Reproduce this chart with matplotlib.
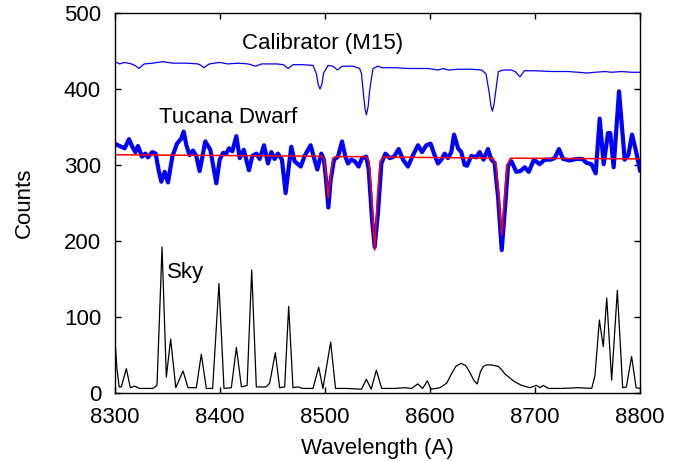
import numpy as np
import matplotlib
matplotlib.use("Agg")
import matplotlib.pyplot as plt

plt.rcParams['font.family'] = ['Liberation Sans', 'DejaVu Sans']

# Calibrator spectrum (M15)
cal_wave = [8300, 8304.4, 8309, 8315.6, 8319, 8322.9, 8326, 8328, 8336, 8345.6, 8355, 8368,
            8379, 8382, 8384.8, 8387.5, 8390, 8399.6, 8407.6, 8417, 8426.7, 8434, 8439.6,
            8454, 8460.3, 8465, 8469.5, 8479, 8488.6, 8491.8, 8493.5, 8495.2, 8497, 8498.7,
            8502.9, 8507.6, 8511.8, 8516.5, 8526.7, 8533, 8534.8, 8536.2, 8538, 8539.4,
            8541, 8542.6, 8545.7, 8550.5, 8554, 8566.7, 8579.4, 8589, 8598, 8607.9, 8612.7,
            8617.5, 8627, 8639.7, 8649.2, 8653.3, 8656.5, 8658, 8659.4, 8661, 8662.3,
            8665.1, 8669.9, 8677.1, 8681, 8685.7, 8689.8, 8700, 8715.9, 8731.7, 8741.3,
            8749.2, 8757, 8766.7, 8773, 8782.5, 8792, 8800]
cal_counts = [436, 433, 435, 433, 431, 427, 431, 433, 434, 436, 434, 434,
              433, 431, 428, 431, 433, 435, 433, 434, 433, 430, 433,
              433, 432, 427, 432, 432, 431, 420, 406, 400, 406, 421,
              431, 430, 425, 430, 430, 427, 420, 399, 375, 366,
              376, 399, 427, 430, 428, 428, 427, 427, 427, 425, 427,
              425, 426, 426, 425, 420, 394, 378, 371, 380, 394,
              423, 425, 425, 423, 416, 424, 424, 423, 423, 422,
              421, 422, 423, 422, 423, 422, 422]

# Tucana Dwarf spectrum
tuc_wave = [8300, 8304.4, 8309.2, 8313.3, 8316.5, 8319.4, 8321.9, 8325.7, 8328.9, 8331.4,
            8335.5, 8338.7, 8341.6, 8344.1, 8347.3, 8350.5, 8354.6, 8359, 8363.2, 8365.4,
            8368, 8371, 8374.3, 8377.4, 8380.6, 8383.8, 8386, 8390.8, 8396.5, 8399.7,
            8402.9, 8406, 8408.6, 8411.7, 8415.6, 8418.8, 8422.6, 8427.6, 8430.8, 8434.6,
            8437.8, 8441.9, 8445.7, 8448.9, 8452, 8455.2, 8459, 8462.5, 8465.7, 8467.9,
            8471, 8476.9, 8480.6, 8486.3, 8490, 8492.7, 8496.5, 8499, 8501, 8503.2,
            8505.4, 8508.6, 8512.4, 8516.2, 8519.4, 8521.9, 8525, 8528.3, 8532, 8535.2,
            8539.3, 8541.6, 8544.8, 8547.3, 8550.5, 8553.7, 8557.5, 8561.6, 8565.7, 8570.2,
            8574.3, 8579, 8583.8, 8588.6, 8592.4, 8596.5, 8600.6, 8603.8, 8607.6, 8610.8,
            8614, 8617.1, 8620.3, 8622.9, 8626.7, 8629.8, 8633, 8635.2, 8639.4, 8644,
            8647.3, 8651, 8655.2, 8658.4, 8661.5, 8664.8, 8668.3, 8671.8, 8674.3, 8677.5,
            8682.2, 8686, 8690.2, 8694, 8699, 8704.4, 8709.2, 8714.6, 8718.7, 8722.8,
            8726.7, 8733, 8739.4, 8745, 8748.9, 8753.7, 8757.8, 8761.6, 8765.4, 8769.5,
            8771.7, 8774.9, 8780, 8785.4, 8788.9, 8792.4, 8795.9, 8800]
tuc_counts = [328, 325, 322, 334, 324, 317, 325, 311, 315, 310,
              317, 315, 293, 278, 291, 277, 311, 328, 335, 344,
              326, 313, 319, 312, 292, 315, 331, 320, 276, 307,
              316, 315, 322, 318, 338, 309, 320, 293, 312, 315,
              308, 326, 302, 317, 308, 315, 307, 263, 300, 324,
              305, 298, 312, 326, 307, 294, 315, 307, 280, 244,
              280, 307, 311, 331, 311, 302, 307, 305, 298, 309,
              311, 294, 228, 192, 238, 302, 315, 309, 311, 321,
              307, 298, 313, 326, 317, 326, 328, 315, 302, 307,
              315, 309, 317, 340, 322, 317, 300, 299, 312, 310,
              317, 307, 321, 307, 303, 258, 188, 250, 299, 305,
              291, 292, 297, 291, 307, 301, 307, 307, 309, 321,
              308, 306, 308, 308, 303, 301, 289, 361, 301, 342,
              342, 297, 397, 307, 313, 340, 320, 293]

# Fitted Ca II triplet model
fit_wave = [8300, 8496, 8499, 8501, 8503.2, 8505.5, 8507.5, 8510,
            8539, 8542, 8544.5, 8547.3, 8550, 8552.5, 8555.5,
            8660, 8663, 8665.5, 8668.3, 8671, 8673.5, 8676.5, 8800]
fit_counts = [313.5, 311.5, 309, 290, 257, 290, 309, 311,
              311, 305, 260, 188, 260, 305, 310.5,
              309, 300, 260, 208, 260, 300, 309, 308]

# Sky spectrum
sky_wave = [8300, 8302, 8304, 8306, 8310.8, 8314.6, 8318.7, 8323.5, 8336, 8340,
            8344.8, 8348.9, 8353, 8357.9, 8364.8, 8369.5, 8377.5, 8382.2, 8387, 8393,
            8399, 8403.8, 8410.8, 8415.6, 8420.4, 8425.8, 8430.2, 8434.6, 8444, 8447.3,
            8452.7, 8456.8, 8461.6, 8465.4, 8469.5, 8474, 8479, 8488.6, 8494, 8498,
            8505.4, 8510, 8520.4, 8534.7, 8539.4, 8544, 8548.9, 8554, 8566.7, 8576.2,
            8582.5, 8588.3, 8593, 8597.5, 8601, 8609.5, 8615.9, 8620, 8624.5, 8629.5,
            8634, 8638, 8642, 8645, 8648, 8650.8, 8654, 8658, 8661.5, 8665,
            8668, 8671.4, 8675, 8679.4, 8683, 8687.3, 8695, 8701.6, 8704.7, 8708,
            8712.7, 8725.4, 8741, 8754, 8757.1, 8761.3, 8765, 8768.3, 8773, 8778.4,
            8783.5, 8787, 8792, 8796.3, 8800]
sky_counts = [68, 30, 8, 8, 32, 7, 9, 6, 6, 10,
              192, 21, 71, 7, 29, 7, 7, 51, 6, 6,
              144, 6, 7, 60, 8, 10, 162, 8, 8, 13,
              53, 7, 8, 114, 7, 8, 6, 6, 34, 6,
              67, 6, 6, 5, 18, 5, 30, 6, 6, 7,
              6, 12, 6, 16, 5, 7, 13, 24, 35, 39,
              36, 27, 16, 12, 28, 35, 37, 37, 36, 35,
              31, 25, 21, 16, 13, 10, 7, 10, 7, 10,
              6, 6, 7, 6, 23, 96, 61, 125, 17, 135,
              7, 8, 48, 7, 6]

x_ticks = [8300, 8400, 8500, 8600, 8700, 8800]
y_ticks = [0, 100, 200, 300, 400, 500]

fig = plt.figure(figsize=(6.89, 4.61), dpi=100)
ax = fig.add_axes([0.1669, 0.1475, 0.762, 0.8243])

ax.plot(cal_wave, cal_counts, color='blue', lw=0.9)
ax.plot(tuc_wave, tuc_counts, color='blue', lw=3.0, solid_joinstyle='round')
ax.plot(fit_wave, fit_counts, color='red', lw=1.1)
ax.plot(sky_wave, sky_counts, color='black', lw=0.9)

ax.text(8497.6, 460, 'Calibrator (M15)', fontsize=16, ha='center', va='center')
ax.text(8407.6, 363, 'Tucana Dwarf', fontsize=16, ha='center', va='center')
ax.text(8367.6, 159, 'Sky', fontsize=16, ha='center', va='center')

ax.set_xlim(8300, 8800)
ax.set_ylim(0, 500)
ax.set_xticks(x_ticks)
ax.set_yticks(y_ticks)
ax.tick_params(direction='in', length=4, width=1, labelsize=16, pad=10,
               top=True, right=True)
for s in ax.spines.values():
    s.set_linewidth(1.0)

ax.set_xlabel('Wavelength (A)', fontsize=16, labelpad=7)
ax.set_ylabel('Counts', fontsize=16, labelpad=21)

fig.savefig('out.png', dpi=100)
